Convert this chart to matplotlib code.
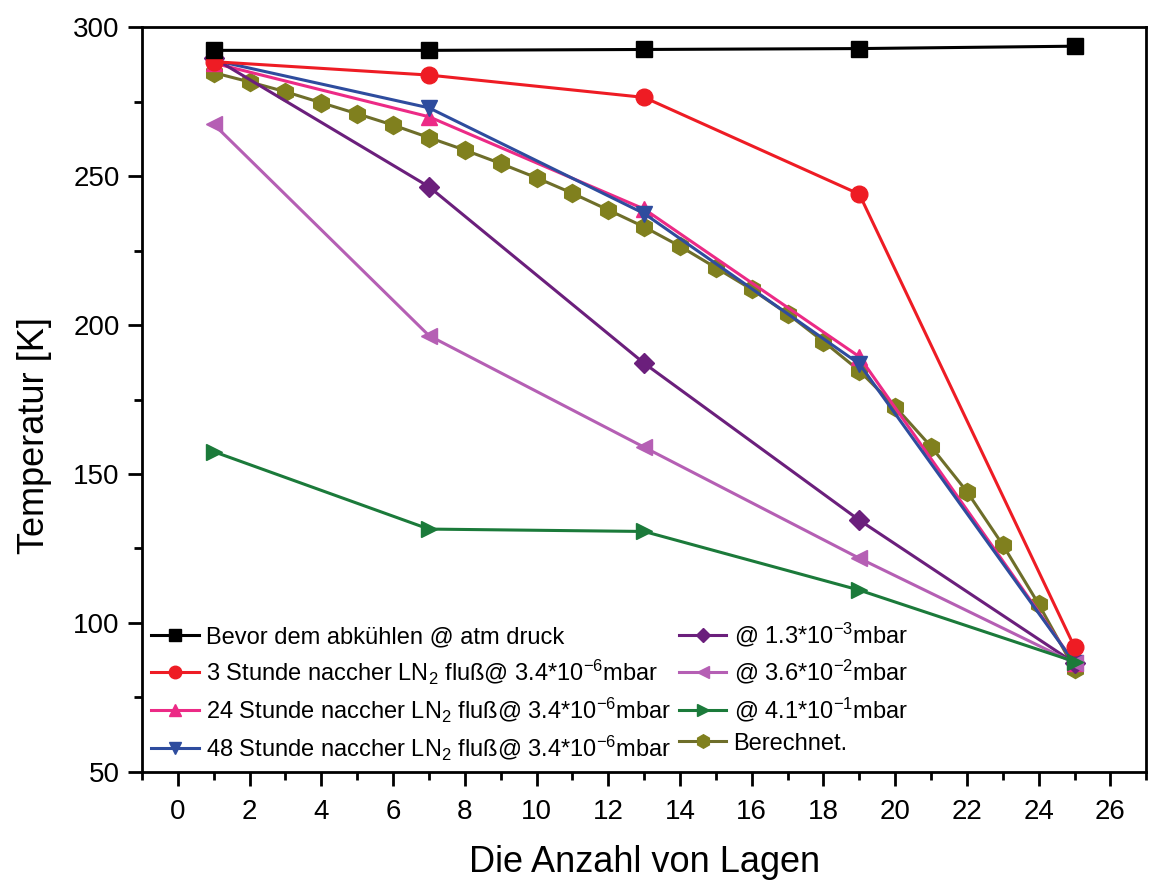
import matplotlib
matplotlib.use("Agg")
import matplotlib.pyplot as plt
from matplotlib.ticker import MultipleLocator

# Messpunkte
x_mess = [1, 7, 13, 19, 25]
bevor = [292.3, 292.3, 292.6, 292.9, 293.7]
std3 = [288.5, 284.0, 276.5, 244.0, 91.9]
std24 = [288.0, 270.0, 239.0, 189.4, 86.5]
std48 = [289.0, 273.0, 237.5, 187.0, 86.5]
p13e3 = [289.7, 246.5, 187.2, 134.5, 86.5]
p36e2 = [267.5, 196.5, 159.0, 121.7, 86.5]
p41e1 = [157.5, 131.5, 130.7, 111.0, 87.0]

# Berechnet
x_ber = list(range(1, 26))
berechnet = [284.8, 281.7, 278.4, 274.7, 271.0, 267.2, 263.0, 258.8, 254.3,
             249.5, 244.3, 238.7, 233.0, 226.5, 219.3, 212.0, 203.8, 194.5,
             184.7, 172.6, 159.2, 144.1, 126.2, 106.3, 84.5]

labels = [
    "Bevor dem abkühlen @ atm druck",
    "3 Stunde naccher LN$_2$ fluß@ 3.4*10$^{-6}$mbar",
    "24 Stunde naccher LN$_2$ fluß@ 3.4*10$^{-6}$mbar",
    "48 Stunde naccher LN$_2$ fluß@ 3.4*10$^{-6}$mbar",
    "@ 1.3*10$^{-3}$mbar",
    "@ 3.6*10$^{-2}$mbar",
    "@ 4.1*10$^{-1}$mbar",
    "Berechnet.",
]

plt.rcParams["font.family"] = ["Liberation Sans", "DejaVu Sans"]
plt.rcParams["mathtext.fontset"] = "custom"
plt.rcParams["mathtext.rm"] = "Liberation Sans"
plt.rcParams["mathtext.it"] = "Liberation Sans"
plt.rcParams["mathtext.bf"] = "Liberation Sans"


def main():
    fig = plt.figure(figsize=(11.49, 8.85), dpi=100)
    ax = fig.add_axes([0.1236, 0.128, 0.874, 0.841])

    lw = 2.2
    ax.plot(x_mess, std3, color="#ee1c24", marker="o", ms=12, lw=lw, label=labels[1], zorder=5)
    ax.plot(x_mess, std24, color="#ec2a86", marker="^", ms=12, lw=lw, label=labels[2], zorder=4)
    ax.plot(x_mess, std48, color="#2e4c9e", marker="v", ms=12, lw=lw, label=labels[3], zorder=4)
    ax.plot(x_mess, p13e3, color="#6b1f7c", marker="D", ms=10, lw=lw, label=labels[4], zorder=4)
    ax.plot(x_mess, p36e2, color="#b55fb4", marker="<", ms=12, lw=lw, label=labels[5], zorder=4)
    ax.plot(x_mess, p41e1, color="#1b7a3a", marker=">", ms=12, lw=lw, label=labels[6], zorder=4)
    ax.plot(x_ber, berechnet, color="#6e6e2a", marker="h", ms=13, lw=lw,
            mfc="#80801e", mec="#80801e", label=labels[7], zorder=3)
    ax.plot(x_mess, bevor, color="black", marker="s", ms=12, lw=lw, label=labels[0], zorder=6)

    ax.set_xlim(-1, 27)
    ax.set_ylim(50, 300)
    ax.xaxis.set_major_locator(MultipleLocator(2))
    ax.xaxis.set_minor_locator(MultipleLocator(1))
    ax.yaxis.set_major_locator(MultipleLocator(50))
    ax.yaxis.set_minor_locator(MultipleLocator(25))
    ax.tick_params(which="major", direction="out", length=10, width=2,
                   labelsize=20, top=False, right=False)
    ax.tick_params(which="minor", direction="out", length=6, width=2,
                   top=False, right=False)
    ax.tick_params(axis="x", pad=10)
    ax.tick_params(axis="y", pad=6)
    for sp in ax.spines.values():
        sp.set_linewidth(2)

    ax.set_xlabel("Die Anzahl von Lagen", fontsize=26)
    ax.set_ylabel("Temperatur [K]", fontsize=26)
    ax.xaxis.set_label_coords(0.5, -0.098)
    ax.yaxis.set_label_coords(-0.09, 0.452)

    h, l = ax.get_legend_handles_labels()
    order = [7, 0, 1, 2, 3, 4, 5, 6]
    ax.legend([h[i] for i in order], [l[i] for i in order], ncol=2,
              loc="lower left", frameon=False, fontsize=17,
              handlelength=2.0, handletextpad=0.3, columnspacing=0.35,
              labelspacing=0.38, borderaxespad=0.0, markerscale=0.75)

    fig.savefig("out.png", dpi=100)


if __name__ == "__main__":
    main()
